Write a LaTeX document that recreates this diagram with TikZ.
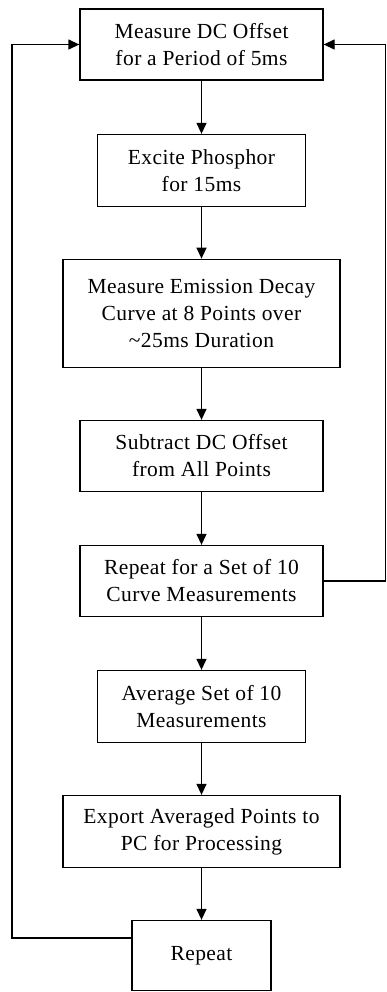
\documentclass[tikz,border=0pt]{standalone}
\usepackage{fontspec}
\setmainfont[LetterSpace=2]{Liberation Serif}
\usetikzlibrary{arrows.meta}
\tikzset{
  stage/.style={draw,line width=1.3pt,align=center,inner sep=0pt,
    font=\fontsize{21.5}{27}\selectfont},
  flow/.style={line width=1.3pt,-{Triangle[length=11pt,width=10pt]}}
}
\newcommand{\stagebox}[5]{
\node[stage,minimum width=#3,minimum height=#4] (#1) at (201.5,#2) {#5};}

\begin{document}
\begin{tikzpicture}[x=1pt,y=-1pt]
\useasboundingbox (0,0) rectangle (387,992);
\stagebox{b1}{44.5}{243pt}{71pt}{Measure DC Offset\\for a Period of 5ms}
\stagebox{b2}{170.5}{208pt}{72pt}{Excite Phosphor\\for 15ms}
\stagebox{b3}{313.3}{277pt}{108pt}{Measure Emission Decay\\Curve at 8 Points over\\\textasciitilde25ms Duration}
\stagebox{b4}{456}{243pt}{71pt}{Subtract DC Offset\\from All Points}
\stagebox{b5}{581}{243pt}{71pt}{Repeat for a Set of 10\\Curve Measurements}
\stagebox{b6}{706.5}{208pt}{72pt}{Average Set of 10\\Measurements}
\stagebox{b7}{831.5}{277pt}{72pt}{Export Averaged Points to\\PC for Processing}
\stagebox{b8}{955.5}{139pt}{70pt}{Repeat}
\foreach \a/\b in {b1/b2,b2/b3,b3/b4,b4/b5,b5/b6,b6/b7,b7/b8}{
	\draw[flow] (\a) -- (\b);
}
% loops back to the top
\coordinate (lbend) at (12,938);
\coordinate (rbend) at (385.5,581);
\draw[flow] (b8.west |- lbend) -- (lbend) |- (b1.west);
\draw[flow] (b5.east) -- (rbend) |- (b1.east);
\end{tikzpicture}
\end{document}
